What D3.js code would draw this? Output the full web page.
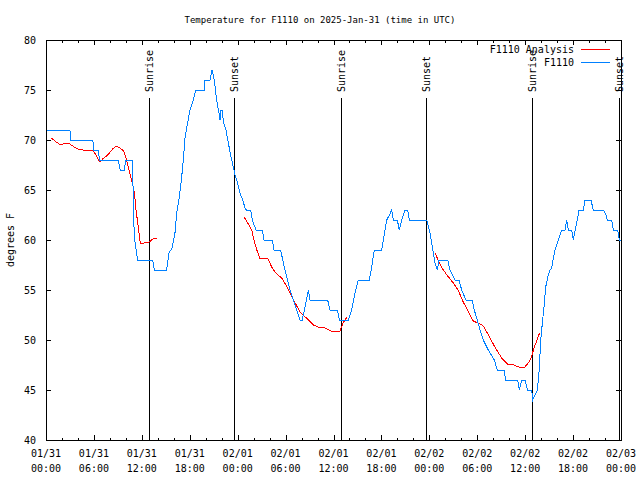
<!DOCTYPE html>
<html><head><meta charset="utf-8">
<script src="https://cdn.jsdelivr.net/npm/d3@7"></script>
<style>
body{margin:0;background:#fff;}
svg{display:block;background:#fff;}
text{font-family:"DejaVu Sans Mono",monospace;font-size:10px;fill:#000;}
</style></head><body>
<svg id="c" width="640" height="480"></svg>
<script>
const titleText = "Temperature for F1110 on 2025-Jan-31 (time in UTC)";
const yAxisLabel = "degrees F";
const startUtc = Date.UTC(2025, 0, 31, 0, 0);

const blueHours = [0,3.0,3.1,5.85,6.0,6.55,6.7,9.05,9.3,9.8,10.0,10.85,10.94,11.06,11.18,11.35,11.48,13.36,13.56,15.11,15.4,15.78,15.94,16.15,16.37,16.69,16.99,17.19,17.41,17.62,18.03,18.44,18.75,19.82,19.91,20.54,20.79,21.07,21.37,21.66,21.79,21.91,22.08,22.2,22.54,22.83,23.17,23.45,23.67,23.95,24.29,24.63,24.92,25.1,25.63,25.83,26.3,27.09,27.3,28.34,28.55,29.39,29.64,29.93,30.34,30.55,30.97,31.39,31.81,32.09,32.43,32.85,33.06,35.27,35.56,36.48,36.73,37.85,38.28,38.69,39.11,40.48,40.78,41.11,42.04,42.24,42.66,43.0,43.29,43.49,43.99,44.24,44.54,44.95,45.29,45.49,47.67,48.08,48.3,48.5,48.71,49.0,49.21,50.3,50.59,51.21,51.72,52.05,52.59,53.38,53.63,54.0,54.35,54.76,55.38,56.14,56.51,57.39,57.54,59.07,59.27,59.57,59.98,60.29,60.82,60.94,61.23,61.52,61.73,61.95,62.15,62.36,62.57,62.9,63.11,63.32,63.52,63.74,64.15,64.36,64.57,64.99,65.2,65.4,65.83,66.03,66.33,66.53,66.74,67.28,67.49,68.24,68.53,69.79,70.12,70.29,70.84,71.04,71.59,71.79,71.95];
const blueTemps = [71,71,70,70,69,69,68,68,67,67,68,68,63,60.5,59.5,58.7,58,58,57,57,58.7,59.2,59.8,60.7,62.7,64.3,66.3,68,70.2,71.2,73,74,75,75,76,76,77,76,74,72.7,72,73,73,71.8,71,69.7,68.3,67.3,66.5,65.8,64.7,64,63.2,63,63,62,61,61,60,60,59,59,58,57,55.7,55,54,53,52,52,53.3,55,54,54,53,53,52,52,53,54.7,56,56,57.3,59,59,60,62,62.5,63,62,62,61,62,63,63,62,62,60.7,59.7,58.7,57.7,57,58,58,57,56,56,55,54,54,53,52,51,50,49,48,47,47,46,46,45,46,46,45,45,44,44.5,45,46.7,50,51.7,53.3,55.3,56.5,57,57.2,58.2,59,60,60.5,61,61,62,61,61,60,61.3,62,63,63,64,64,63,63,62.5,62,62,61,61,60,60];

const redHours = [0.7,1.25,1.67,2.1,2.4,2.8,3.34,3.97,4.6,5.85,6.26,6.6,6.76,7.1,7.72,8.35,8.77,9.27,9.73,10.0,10.4,10.77,11.06,11.27,11.56,11.81,12.3,12.94,13.36,13.86,
  null,
  24.8,25.33,25.76,26.1,26.4,26.8,27.2,27.76,28.26,28.76,29.5,29.9,30.55,31.2,31.8,32.6,33.5,34.1,34.9,35.7,36.8,37.2,37.7,
  null,
  48.7,49.1,49.5,50.2,51.0,51.6,52.25,52.9,53.5,54.35,54.76,55.4,56.2,57.06,57.8,58.3,58.9,59.6,59.95,60.5,60.8,61.1,61.4,61.8];
const redTemps = [70.2,69.8,69.6,69.6,69.7,69.7,69.4,69.1,69,69,68.5,68,67.8,68.1,68.5,69.1,69.4,69.2,68.9,68.3,67,65.8,64.8,63,61.3,59.7,59.7,59.8,60.1,60.2,
  null,
  62.3,61.6,61,59.8,59,58.1,58.2,58.2,57.3,56.7,56.2,55.7,54.7,53.7,52.8,52.2,51.5,51.3,51.2,50.9,50.9,51.7,52.3,
  null,
  58.7,58,57.3,56.5,55.7,55,53.8,52.8,51.9,51.6,51.4,50.5,49.3,48.2,47.6,47.6,47.4,47.2,47.3,47.8,48.3,49.2,49.8,50.7];

const sunLabels = ["Sunrise","Sunset","Sunrise","Sunset","Sunrise","Sunset"];
const sunHours = [12.93,23.58,36.98,47.67,60.9,71.75];

const yTickValues = [40,45,50,55,60,65,70,75,80];
const xTickHours = [0,6,12,18,24,30,36,42,48,54,60,66,72];
const xMinorHours = [2,4,8,10,14,16,20,22,26,28,32,34,38,40,44,46,50,52,56,58,62,64,68,70];
const legendLabels = ["F1110 Analysis","F1110"];
const seriesColors = ["#ff0000","#0080ff"];

const toDate = h => new Date(startUtc + h * 3600000);

const svg = d3.select("#c");
const L = 46, R = 621, T = 40, B = 440;
const x = d3.scaleUtc().domain([toDate(0), toDate(72)]).range([L, R]);
const y = d3.scaleLinear().domain([40, 80]).range([B, T]);

// title
svg.append("text").attr("x", 320).attr("y", 23).attr("text-anchor", "middle")
  .style("font-size", "9px").text(titleText);

// y label
svg.append("text").attr("transform", "translate(10,240) rotate(-90)")
  .attr("text-anchor", "middle").attr("dy", "0.35em").text(yAxisLabel);

const g = svg.append("g").attr("shape-rendering", "crispEdges");

// ticks
const yAxisL = d3.axisLeft(y).tickValues(yTickValues).tickSize(-5).tickPadding(10).tickFormat(d3.format("d"));
const yAxisR = d3.axisRight(y).tickValues(yTickValues).tickSize(-5).tickFormat("");
const xAxisB = d3.axisBottom(x).tickValues(xTickHours.map(toDate)).tickSize(-5).tickFormat("");
const xAxisT = d3.axisTop(x).tickValues(xTickHours.map(toDate)).tickSize(-5).tickFormat("");
const xMinB = d3.axisBottom(x).tickValues(xMinorHours.map(toDate)).tickSize(-2.5).tickFormat("");
const xMinT = d3.axisTop(x).tickValues(xMinorHours.map(toDate)).tickSize(-2.5).tickFormat("");

function styleAxis(sel){
  sel.select(".domain").remove();
  sel.selectAll("line").attr("stroke", "#000");
}
g.append("g").attr("transform", `translate(${L},0)`).call(yAxisL).call(styleAxis)
  .selectAll("text").attr("font-family", "DejaVu Sans Mono").attr("font-size", 10).attr("fill", "#000");
g.append("g").attr("transform", `translate(${R},0)`).call(yAxisR).call(styleAxis);
g.append("g").attr("transform", `translate(0,${B})`).call(xAxisB).call(styleAxis);
g.append("g").attr("transform", `translate(0,${T})`).call(xAxisT).call(styleAxis);
g.append("g").attr("transform", `translate(0,${B})`).call(xMinB).call(styleAxis);
g.append("g").attr("transform", `translate(0,${T})`).call(xMinT).call(styleAxis);

// x tick labels (two lines)
const fmtDay = d3.utcFormat("%m/%d"), fmtTime = d3.utcFormat("%H:%M");
const xl = svg.append("g").selectAll("g").data(xTickHours).join("g")
  .attr("transform", d => `translate(${x(toDate(d))},0)`);
xl.append("text").attr("y", 456.5).attr("text-anchor", "middle").text(d => fmtDay(toDate(d)));
xl.append("text").attr("y", 471.5).attr("text-anchor", "middle").text(d => fmtTime(toDate(d)));

// sun lines and labels
const sun = svg.append("g").selectAll("g").data(sunHours).join("g");
sun.append("line").attr("shape-rendering", "crispEdges")
  .attr("x1", d => x(toDate(d))).attr("x2", d => x(toDate(d)))
  .attr("y1", y(74.17)).attr("y2", y(40)).attr("stroke", "#000").attr("stroke-width", 1);
sun.append("text")
  .attr("transform", d => `translate(${x(toDate(d))},${y(74.8)}) rotate(-90)`)
  .attr("dy", "0.35em").attr("text-anchor", "start")
  .text((d, i) => sunLabels[i]);

// data lines
const redData = redHours.map((h, i) => ({h, t: redTemps[i]}));
const blueData = blueHours.map((h, i) => ({h, t: blueTemps[i]}));
const line = d3.line().defined(d => d.h != null && d.t != null)
  .x(d => x(toDate(d.h))).y(d => y(d.t));
svg.append("path").datum(redData).attr("d", line).attr("fill", "none")
  .attr("stroke", seriesColors[0]).attr("stroke-width", 1).attr("shape-rendering", "crispEdges");
svg.append("path").datum(blueData).attr("d", line).attr("fill", "none")
  .attr("stroke", seriesColors[1]).attr("stroke-width", 1).attr("shape-rendering", "crispEdges");

// legend
const leg = svg.append("g").selectAll("g").data(legendLabels).join("g")
  .attr("transform", (d, i) => `translate(0,${49.5 + i * 12.5})`);
leg.append("text").attr("x", 574).attr("dy", "0.35em").attr("text-anchor", "end").text(d => d);
leg.append("line").attr("x1", 581).attr("x2", 610).attr("y1", 0).attr("y2", 0)
  .attr("stroke", (d, i) => seriesColors[i]).attr("stroke-width", 1).attr("shape-rendering", "crispEdges");

// border
svg.append("rect").attr("x", L).attr("y", T).attr("width", R - L).attr("height", B - T)
  .attr("fill", "none").attr("stroke", "#000").attr("stroke-width", 1).attr("shape-rendering", "crispEdges");
</script>
</body></html>
